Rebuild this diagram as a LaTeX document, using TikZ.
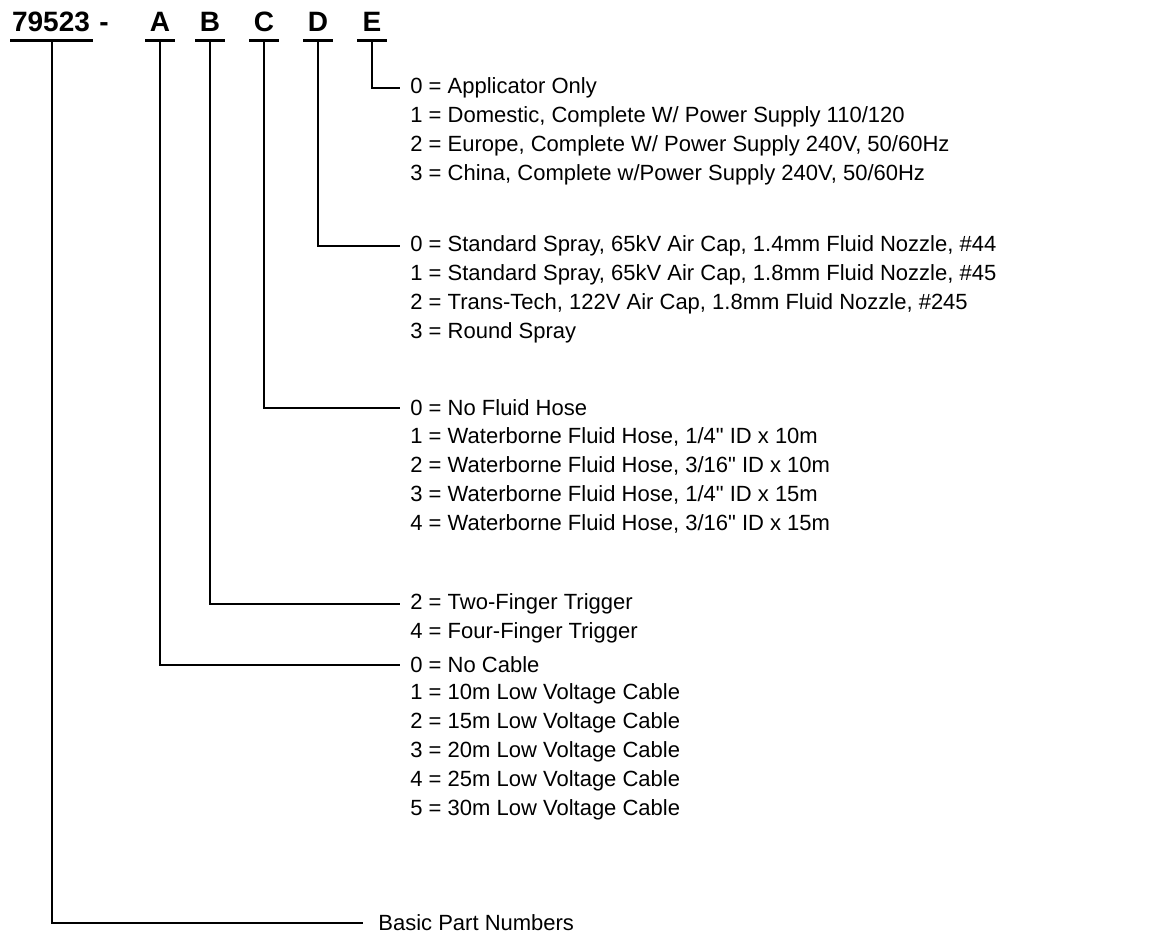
\documentclass[tikz,border=0pt]{standalone}
\usepackage{fontspec}
\setmainfont{Liberation Sans}
\usetikzlibrary{positioning}

\begin{document}
\begin{tikzpicture}[
x=0.5pt, y=-0.5pt,
code/.style={font=\fontsize{14}{16}\selectfont\bfseries, anchor=base, inner sep=0pt},
opt/.style={font=\fontsize{11}{13}\selectfont, anchor=west, inner sep=0pt},
bar/.style={line width=1.5pt},
lead/.style={line width=1pt}
]
\useasboundingbox (0,0) rectangle (1151,935);

% header: part number and the code letters
\node[code] (base) at (51,32) {79523};
\node[code, anchor=base west] (dash) at (99,32) {-};
\foreach \n/\l/\x in {a/A/160, b/B/210, c/C/264, d/D/318, e/E/372}
  \node[code] (\n) at (\x,32) {\l};

\draw[bar] (10,41) -- (93,41);
\foreach \n in {a,b,c,d,e}
  \draw[bar] ([shift={(-15,9)}]\n.base) -- ([shift={(15,9)}]\n.base);

% option lists
\foreach \t [count=\i from 0] in {{0 = Applicator Only},
    {1 = Domestic, Complete W/ Power Supply 110/120},
    {2 = Europe, Complete W/ Power Supply 240V, 50/60Hz},
    {3 = China, Complete w/Power Supply 240V, 50/60Hz}}
  \node[opt] (e\i) at (410,{88+29*\i}) {\t};
\foreach \t [count=\i from 0] in {{0 = Standard Spray, 65kV Air Cap, 1.4mm Fluid Nozzle, \#44},
    {1 = Standard Spray, 65kV Air Cap, 1.8mm Fluid Nozzle, \#45},
    {2 = Trans-Tech, 122V Air Cap, 1.8mm Fluid Nozzle, \#245},
    {3 = Round Spray}}
  \node[opt] (d\i) at (410,{246+29*\i}) {\t};
\foreach \t [count=\i from 0] in {{0 = No Fluid Hose},
    {1 = Waterborne Fluid Hose, 1/4\textquotedbl{} ID x 10m},
    {2 = Waterborne Fluid Hose, 3/16\textquotedbl{} ID x 10m},
    {3 = Waterborne Fluid Hose, 1/4\textquotedbl{} ID x 15m},
    {4 = Waterborne Fluid Hose, 3/16\textquotedbl{} ID x 15m}}
  \node[opt] (c\i) at (410,{408+29*\i}) {\t};
\foreach \t [count=\i from 0] in {{2 = Two-Finger Trigger},
    {4 = Four-Finger Trigger}}
  \node[opt] (b\i) at (410,{604+29*\i}) {\t};
\foreach \t [count=\i from 0] in {{0 = No Cable},
    {1 = 10m Low Voltage Cable},
    {2 = 15m Low Voltage Cable},
    {3 = 20m Low Voltage Cable},
    {4 = 25m Low Voltage Cable},
    {5 = 30m Low Voltage Cable}}
  \node[opt] (a\i) at (410,{665+29*\i}) {\t};
\node[opt] (basic) at (378,923) {Basic Part Numbers};

% leaders
\foreach \n in {a,b,c,d,e}
  \draw[lead] ([shift={(0,9)}]\n.base) |- ([shift={(-10,0)}]\n0.west);
\draw[lead] (52,41) |- ([shift={(-15,0)}]basic.west);
\end{tikzpicture}
\end{document}
